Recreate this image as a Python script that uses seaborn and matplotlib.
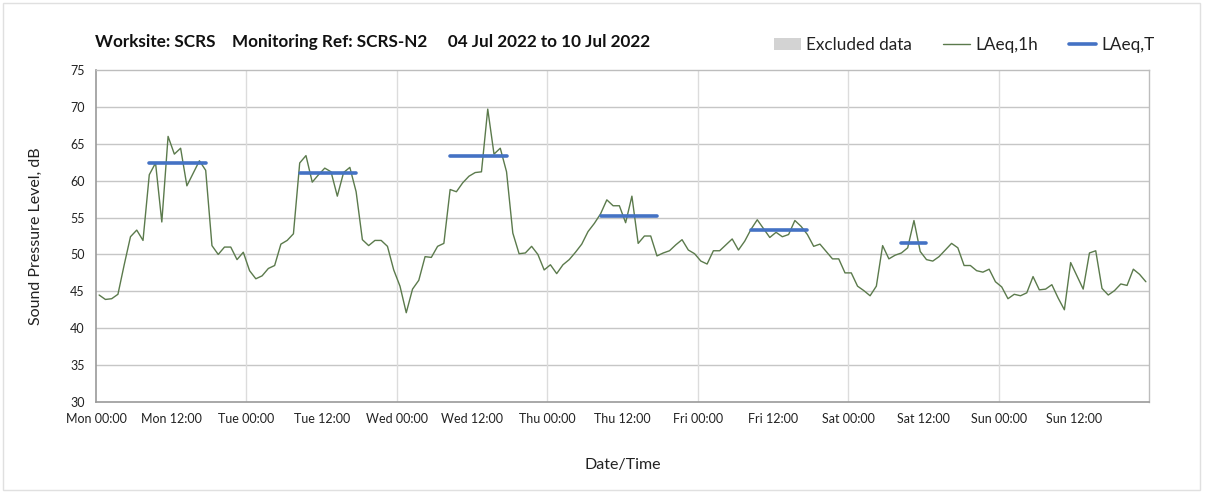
#noise monitoring weekly chart
import numpy as np
import pandas as pd
import matplotlib
matplotlib.use("Agg")
import matplotlib.pyplot as plt
from matplotlib.patches import Patch, Rectangle
from matplotlib.lines import Line2D
import seaborn as sns

# --- data: hourly LAeq,1h for Mon 00:00 .. Sun 23:00 ---
laeq_1h = [
    44.5, 43.9, 44.0, 44.6, 48.6, 52.4, 53.3, 51.9, 60.8, 62.4, 54.4, 66.0,
    63.6, 64.4, 59.3, 61.0, 62.7, 61.4, 51.2, 50.0, 51.0, 51.0, 49.3, 50.3,
    47.8, 46.7, 47.1, 48.1, 48.5, 51.4, 51.9, 52.8, 62.4, 63.4, 59.8, 60.8,
    61.7, 61.2, 57.9, 61.1, 61.8, 58.5, 52.0, 51.2, 51.9, 51.9, 51.1, 47.9,
    45.7, 42.1, 45.3, 46.5, 49.7, 49.6, 51.1, 51.5, 58.8, 58.5, 59.7, 60.6,
    61.1, 61.2, 69.7, 63.6, 64.4, 61.2, 52.9, 50.1, 50.2, 51.1, 50.0, 47.9,
    48.6, 47.4, 48.6, 49.3, 50.3, 51.4, 53.1, 54.2, 55.5, 57.4, 56.6, 56.6,
    54.3, 57.9, 51.5, 52.5, 52.5, 49.8, 50.2, 50.5, 51.3, 52.0, 50.6, 50.1,
    49.1, 48.7, 50.5, 50.5, 51.3, 52.1, 50.6, 51.8, 53.4, 54.7, 53.5, 52.3,
    53.0, 52.4, 52.7, 54.6, 53.8, 52.7, 51.1, 51.4, 50.4, 49.4, 49.4, 47.5,
    47.5, 45.7, 45.1, 44.4, 45.7, 51.2, 49.4, 49.9, 50.2, 50.9, 54.6, 50.4,
    49.3, 49.1, 49.7, 50.6, 51.5, 50.9, 48.5, 48.5, 47.8, 47.6, 48.0, 46.3,
    45.6, 44.0, 44.6, 44.4, 44.8, 47.0, 45.2, 45.3, 45.9, 44.1, 42.5, 48.9,
    47.1, 45.3, 50.2, 50.5, 45.4, 44.5, 45.1, 46.0, 45.8, 48.0, 47.3, 46.3,
]

# LAeq,T daytime periods (hour index of first / last hourly value)
period_start = [8, 32, 56, 80, 104, 128]
period_end = [17, 41, 65, 89, 113, 132]
laeq_t = [62.4, 61.1, 63.35, 55.2, 53.3, 51.5]

tick_labels = ["Mon 00:00", "Mon 12:00", "Tue 00:00", "Tue 12:00", "Wed 00:00",
               "Wed 12:00", "Thu 00:00", "Thu 12:00", "Fri 00:00", "Fri 12:00",
               "Sat 00:00", "Sat 12:00", "Sun 00:00", "Sun 12:00"]

title_text = "Worksite: SCRS    Monitoring Ref: SCRS-N2     04 Jul 2022 to 10 Jul 2022"

# --- build frames (values plotted at middle of each hour) ---
df = pd.DataFrame({"hour": np.arange(len(laeq_1h)) + 0.5, "level": laeq_1h})
rows = []
for i, (s, e, v) in enumerate(zip(period_start, period_end, laeq_t)):
    rows.append({"period": i, "hour": s + 0.5, "level": v})
    rows.append({"period": i, "hour": e + 0.5, "level": v})
df_t = pd.DataFrame(rows)

sns.set_theme(style="white")
plt.rcParams["font.family"] = ["Lato", "DejaVu Sans"]

green = "#5b7a4c"
blue = "#4472c4"
grid_h = "#c6c6c6"
grid_v = "#dcdcdc"

fig = plt.figure(figsize=(12.08, 4.93), dpi=100)
ax = fig.add_axes([96 / 1208, 1 - 402 / 493, (1149 - 96) / 1208, (402 - 70) / 493])

sns.lineplot(data=df, x="hour", y="level", color=green, linewidth=1.0, ax=ax, legend=False)
sns.lineplot(data=df_t, x="hour", y="level", units="period", estimator=None,
             color=blue, linewidth=2.6, ax=ax, legend=False)

ax.set_xlim(0, 168)
ax.set_ylim(30, 75)
ax.set_yticks(np.arange(30, 76, 5))
ax.set_xticks(np.arange(0, 168, 12))
ax.set_xticklabels(tick_labels)

# gridlines: horizontal every 5 dB, vertical at each midnight
for yv in np.arange(35, 75, 5):
    ax.axhline(yv, color=grid_h, linewidth=1.0, zorder=0)
for xv in np.arange(24, 168, 24):
    ax.axvline(xv, color=grid_v, linewidth=1.0, zorder=0)

for side in ["top", "right"]:
    ax.spines[side].set_color("#bdbdbd")
    ax.spines[side].set_linewidth(1.0)
for side in ["left", "bottom"]:
    ax.spines[side].set_color("#9a9a9a")
    ax.spines[side].set_linewidth(1.2)

ax.tick_params(axis="both", which="major", direction="out", length=4, width=1,
               color="#9a9a9a", labelsize=9, labelcolor="#222222", pad=4)

ax.set_xlabel("Date/Time", fontsize=11.5, color="#222222", labelpad=24)
ax.set_ylabel("Sound Pressure Level, dB", fontsize=11.5, color="#222222", labelpad=20)

fig.text(95 / 1208, 1 - 42 / 493, title_text, fontsize=12.3, fontweight="bold",
         color="#111111", ha="left", va="center")

handles = [
    Patch(facecolor="#d3d3d3", edgecolor="none"),
    Line2D([0], [0], color=green, linewidth=1.0),
    Line2D([0], [0], color=blue, linewidth=2.6),
]
fig.legend(handles, ["Excluded data", "LAeq,1h", "LAeq,T"], ncol=3, frameon=False,
           loc="center right", bbox_to_anchor=(1170 / 1208, 1 - 45 / 493),
           fontsize=12.3, handlelength=1.6, handletextpad=0.3, columnspacing=1.8,
           labelcolor="#222222")

# light chart-area border
fig.add_artist(Rectangle((3 / 1208, 3 / 493), 1197 / 1208, 487 / 493,
                         transform=fig.transFigure, fill=False,
                         edgecolor="#e0e0e0", linewidth=1.0))

fig.savefig("out.png", dpi=100)
